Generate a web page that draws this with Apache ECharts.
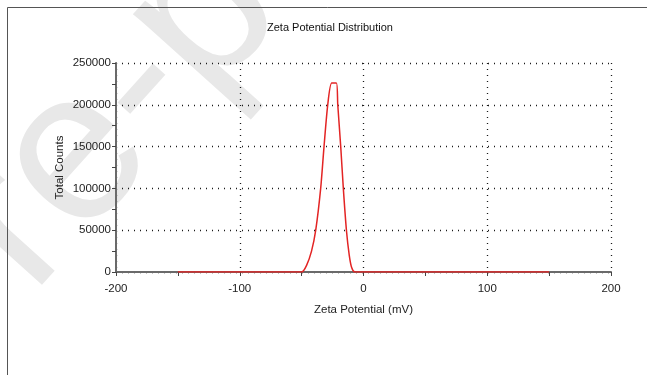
<!DOCTYPE html>
<html>
<head>
<meta charset="utf-8">
<script src="https://cdn.jsdelivr.net/npm/echarts@6/dist/echarts.min.js"></script>
<style>
  html, body { margin: 0; padding: 0; background: #ffffff; }
  #chart { width: 647px; height: 375px; }
</style>
</head>
<body>
<div id="chart"></div>
<script>
// Zeta potential (mV) and total counts for the measured distribution
const potential = [-150, -50, -46, -42, -38.6, -34.6, -31.9, -28.9, -25.7, -21.9, -20.8, -18.4, -16.3, -13.8, -11.5, -9.5, -7, 150];
const counts    = [0, 0, 8000, 25000, 50000, 100000, 150000, 200000, 226000, 226000, 200000, 150000, 100000, 50000, 20000, 5000, 0, 0];

const xRange = [-200, 200];
const xStep = 100;
const yRange = [0, 250000];
const yStep = 50000;

const FONT = '"Liberation Sans", Arial, sans-serif';

const chart = echarts.init(document.getElementById('chart'), null, { renderer: 'canvas' });

const dotted = { type: [1, 5], color: '#1a1a1a', width: 1.3 };

chart.setOption({
  backgroundColor: '#ffffff',
  animation: false,
  title: {
    text: 'Zeta Potential Distribution',
    left: 262,
    top: 17,
    textStyle: { fontFamily: FONT, fontSize: 11, fontWeight: 'normal', color: '#111' }
  },
  graphic: [
    {
      type: 'text',
      x: -12, y: 256,
      rotation: 48 * Math.PI / 180,
      z: -10,
      silent: true,
      style: {
        text: 're-p',
        font: '215px "Liberation Sans", Arial, sans-serif',
        fill: '#e8e8e8',
        align: 'left',
        verticalAlign: 'middle'
      }
    },
    {
      type: 'rect',
      z: -5,
      silent: true,
      shape: { x: 7.5, y: 7.5, width: 700, height: 400 },
      style: { fill: 'none', stroke: '#555', lineWidth: 1 }
    }
  ],
  grid: { left: 116, right: 36, top: 63, bottom: 103 },
  xAxis: {
    type: 'value',
    min: xRange[0], max: xRange[1], interval: xStep,
    name: 'Zeta Potential (mV)',
    nameLocation: 'middle',
    nameGap: 32,
    nameTextStyle: { fontFamily: FONT, fontSize: 11.5, color: '#222' },
    axisLine: { show: true, onZero: false, lineStyle: { color: '#6a6a6a', width: 2 } },
    axisTick: { show: true, length: 4, lineStyle: { color: '#444', width: 1 } },
    minorTick: { show: true, splitNumber: 2, length: 4, lineStyle: { color: '#444', width: 1 } },
    axisLabel: { fontFamily: FONT, fontSize: 11.5, color: '#222', margin: 11 },
    splitLine: { show: true, lineStyle: dotted }
  },
  yAxis: {
    type: 'value',
    min: yRange[0], max: yRange[1], interval: yStep,
    name: 'Total Counts',
    nameLocation: 'middle',
    nameGap: 50,
    nameMoveOverlap: false,
    nameTextStyle: { fontFamily: FONT, fontSize: 11.5, color: '#222' },
    axisLine: { show: true, onZero: false, lineStyle: { color: '#6a6a6a', width: 2 } },
    axisTick: { show: true, length: 4, lineStyle: { color: '#444', width: 1 } },
    minorTick: { show: true, splitNumber: 2, length: 4, lineStyle: { color: '#444', width: 1 } },
    axisLabel: { fontFamily: FONT, fontSize: 11.5, color: '#222', margin: 5, formatter: v => String(v) },
    splitLine: { show: true, lineStyle: dotted }
  },
  series: [{
    type: 'line',
    data: potential.map((p, i) => [p, counts[i]]),
    symbol: 'none',
    smooth: 0.25,
    z: 5,
    lineStyle: { color: '#e32424', width: 1.5 }
  }]
});
</script>
</body>
</html>
